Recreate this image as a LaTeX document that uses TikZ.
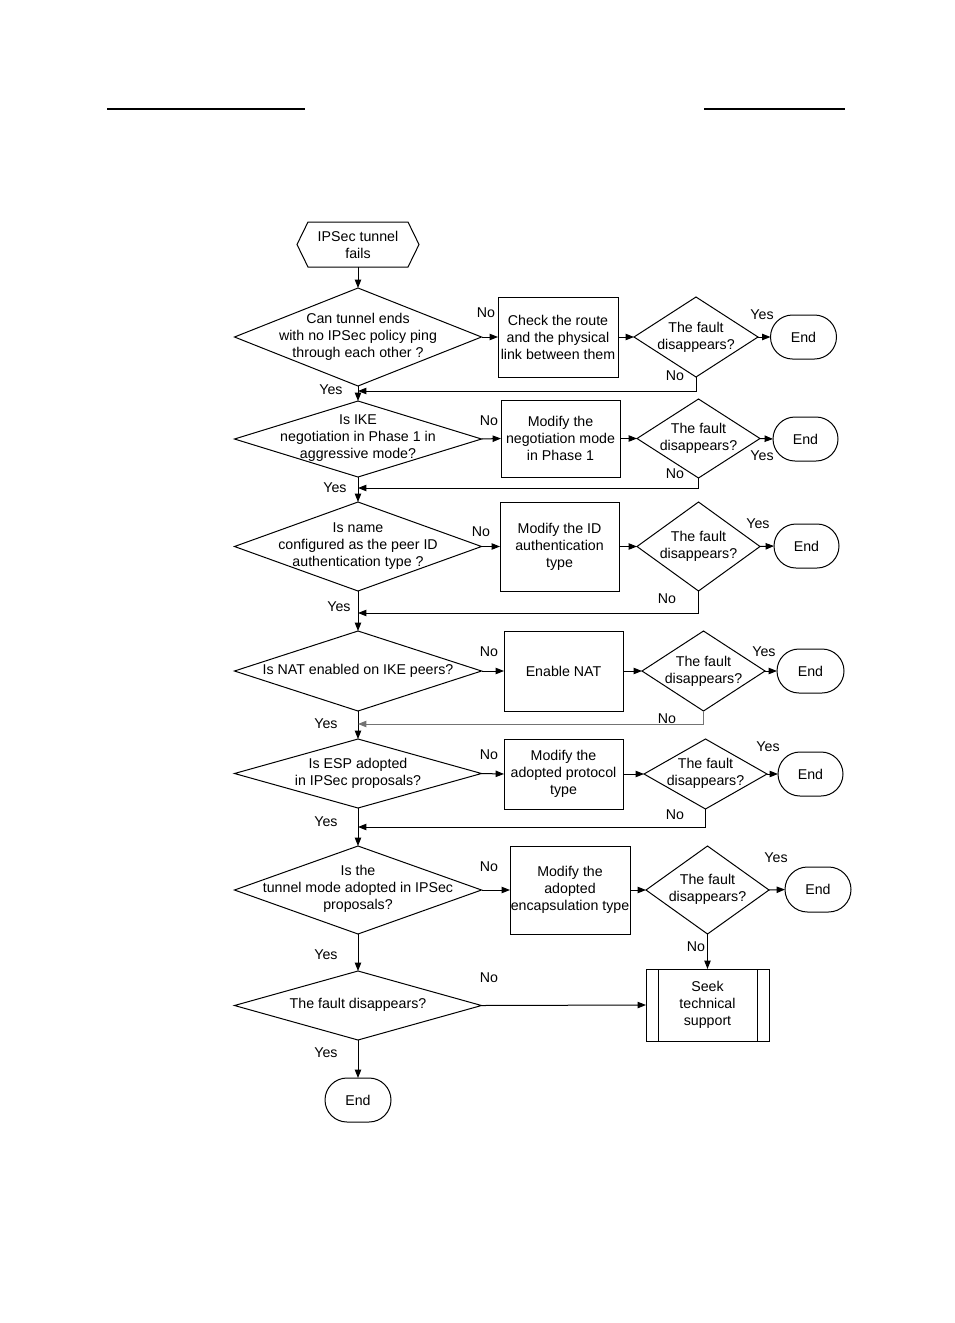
\documentclass[tikz,border=0pt]{standalone}
\usepackage{fontspec}
\setmainfont{Liberation Sans}
\usetikzlibrary{shapes.geometric,shapes.misc,arrows.meta}
\begin{document}
\begin{tikzpicture}[x=0.5pt,y=-0.5pt,
  every node/.style={font=\fontsize{7.1pt}{8.5pt}\selectfont, inner sep=0pt, outer sep=0pt},
  line/.style={line width=0.5pt},
  arr/.style={line width=0.5pt,-{Triangle[length=4.2pt,width=3.2pt]}},
  dia/.style={diamond, draw, line width=0.5pt, inner sep=0pt},
  txt/.style={align=center},
  box/.style={rectangle, draw, line width=0.5pt, align=center},
  term/.style={rounded rectangle, draw, line width=0.5pt, minimum width=33pt, minimum height=22pt},
  lbl/.style={font=\fontsize{7.1pt}{8.5pt}\selectfont}
]
\useasboundingbox (0,0) rectangle (954,1323);
% header rules
\draw[line width=0.75pt] (107,109) -- (305,109);
\draw[line width=0.75pt] (704,109) -- (845,109);

% start
\node[txt, minimum width=61pt, minimum height=22.5pt] (start) at (358,244.5) {IPSec tunnel\\fails};
\draw[line] (start.west) -- ([xshift=5.5pt]start.north west) -- ([xshift=-5.5pt]start.north east)
  -- (start.east) -- ([xshift=-5.5pt]start.south east) -- ([xshift=5.5pt]start.south west) -- cycle;

% row 1
\node[dia, minimum width=123.5pt, minimum height=49pt] (d1) at (358,337) {};
\node[txt] (t1) at (358,337) {Can tunnel ends\\with no IPSec policy ping\\through each other ?};
\node[box, minimum width=60pt, minimum height=40pt] (b1) at (558,337) {Check the route\\and the physical\\link between them};
\node[dia, minimum width=62pt, minimum height=40pt] (q1) at (696,337) {};
\node[txt] (u1) at (696,337) {The fault\\disappears?};
\node[term] (e1) at (803.5,337) {End};

% row 2
\node[dia, minimum width=123.5pt, minimum height=38pt] (d2) at (358,439) {};
\node[txt] (t2) at (358,438) {Is IKE\\negotiation in Phase 1 in\\aggressive mode?};
\node[box, minimum width=59.5pt, minimum height=38.5pt] (b2) at (560.5,438.5) {Modify the\\negotiation mode\\in Phase 1};
\node[dia, minimum width=61.5pt, minimum height=39.5pt] (q2) at (698.5,438.5) {};
\node[txt] (u2) at (698.5,438) {The fault\\disappears?};
\node[term, minimum width=32.5pt] (e2) at (805.5,439) {End};

% row 3
\node[dia, minimum width=123.5pt, minimum height=44.5pt] (d3) at (358,546.5) {};
\node[txt] (t3) at (358,546) {Is name\\configured as the peer ID\\authentication type ?};
\node[box, minimum width=59.5pt, minimum height=44.5pt] (b3) at (559.5,546.5) {Modify the ID\\authentication\\type};
\node[dia, minimum width=61.5pt, minimum height=44.5pt] (q3) at (698.5,546.5) {};
\node[txt] (u3) at (698.5,546) {The fault\\disappears?};
\node[term, minimum width=32.5pt] (e3) at (806.5,546) {End};

% row 4
\node[dia, minimum width=123.5pt, minimum height=40pt] (d4) at (358,671) {};
\node[txt] (t4) at (358,671) {Is NAT enabled on IKE peers?};
\node[box, minimum width=59.5pt, minimum height=40pt] (b4) at (563.5,671) {Enable NAT};
\node[dia, minimum width=61.5pt, minimum height=40pt] (q4) at (703.5,671) {};
\node[txt] (u4) at (703.5,671) {The fault\\disappears?};
\node[term, minimum width=33.5pt] (e4) at (810.5,671) {End};

% row 5
\node[dia, minimum width=123.5pt, minimum height=34.5pt] (d5) at (358,773.5) {};
\node[txt] (t5) at (358,773.5) {Is ESP adopted\\in IPSec proposals?};
\node[box, minimum width=59.5pt, minimum height=35pt] (b5) at (563.5,774) {Modify the\\adopted protocol\\type};
\node[dia, minimum width=61.5pt, minimum height=35pt] (q5) at (705.5,774) {};
\node[txt] (u5) at (705.5,773.5) {The fault\\disappears?};
\node[term, minimum width=32.5pt] (e5) at (810.5,774) {End};

% row 6
\node[dia, minimum width=123.5pt, minimum height=44pt] (d6) at (358,890) {};
\node[txt] (t6) at (358,889) {Is the\\tunnel mode adopted in IPSec\\proposals?};
\node[box, minimum width=60pt, minimum height=44pt] (b6) at (570,890) {Modify the\\adopted\\encapsulation type};
\node[dia, minimum width=61.5pt, minimum height=44pt] (q6) at (707.5,890) {};
\node[txt] (u6) at (707.5,889) {The fault\\disappears?};
\node[term, minimum width=33pt, minimum height=22.5pt] (e6) at (818,889.5) {End};

% row 7
\node[dia, minimum width=123.5pt, minimum height=34.5pt] (d7) at (358,1005.5) {};
\node[txt] (t7) at (358,1005) {The fault disappears?};
\node[box, minimum width=61.5pt, minimum height=36pt] (sup) at (707.5,1005) {Seek\\technical\\support};
\draw[line] ([xshift=6pt]sup.north west) -- ([xshift=6pt]sup.south west);
\draw[line] ([xshift=-6pt]sup.north east) -- ([xshift=-6pt]sup.south east);
\node[term] (e7) at (358,1100) {End};

% junction coordinates
\coordinate (j1) at (358,391);
\coordinate (j2) at (358,488);
\coordinate (j3) at (358,613);
\coordinate (j4) at (358,724);
\coordinate (j5) at (358,827);

% main vertical flow
\draw[arr] (start.south) -- (d1.north);
\draw[arr] (d1.south) -- (d2.north);
\draw[arr] (d2.south) -- (d3.north);
\draw[arr] (d3.south) -- (d4.north);
\draw[arr] (d4.south) -- (d5.north);
\draw[arr] (d5.south) -- (d6.north);
\draw[arr] (d6.south) -- (d7.north);
\draw[arr] (d7.south) -- (e7.north);

% horizontal flows
\foreach \i in {1,...,6}{
  \draw[arr] (d\i.east) -- (b\i.west);
  \draw[arr] (b\i.east) -- (q\i.west);
  \draw[arr] (q\i.east) -- (e\i.west);
}
\draw[arr] (d7.east) -- (sup.west);
\draw[arr] (q6.south) -- (sup.north);

% No loops
\draw[arr] (q1.south) |- (j1);
\draw[arr] (q2.south) |- (j2);
\draw[arr] (q3.south) |- (j3);
\draw[arr, draw=black!55] (q4.south) |- (j4);
\draw[arr] (q5.south) |- (j5);

% labels
\node[lbl] (l1a) at (486,313) {No};
\node[lbl] (l1b) at (762,315) {Yes};
\node[lbl] (l1c) at (675,376) {No};
\node[lbl] (l1d) at (331,390) {Yes};

\node[lbl] (l2a) at (489,421) {No};
\node[lbl] (l2b) at (762,456) {Yes};
\node[lbl] (l2c) at (675,474) {No};
\node[lbl] (l2d) at (335,488) {Yes};

\node[lbl] (l3a) at (481,532) {No};
\node[lbl] (l3b) at (758,524) {Yes};
\node[lbl] (l3c) at (667,599) {No};
\node[lbl] (l3d) at (339,607) {Yes};

\node[lbl] (l4a) at (489,652) {No};
\node[lbl] (l4b) at (764,652) {Yes};
\node[lbl] (l4c) at (667,719) {No};
\node[lbl] (l4d) at (326,724) {Yes};

\node[lbl] (l5a) at (489,755) {No};
\node[lbl] (l5b) at (768,747) {Yes};
\node[lbl] (l5c) at (675,815) {No};
\node[lbl] (l5d) at (326,822) {Yes};

\node[lbl] (l6a) at (489,867) {No};
\node[lbl] (l6b) at (776,858) {Yes};
\node[lbl] (l6c) at (696,947) {No};
\node[lbl] (l6d) at (326,955) {Yes};

\node[lbl] (l7a) at (489,978) {No};
\node[lbl] (l7d) at (326,1053) {Yes};
\end{tikzpicture}
\end{document}
